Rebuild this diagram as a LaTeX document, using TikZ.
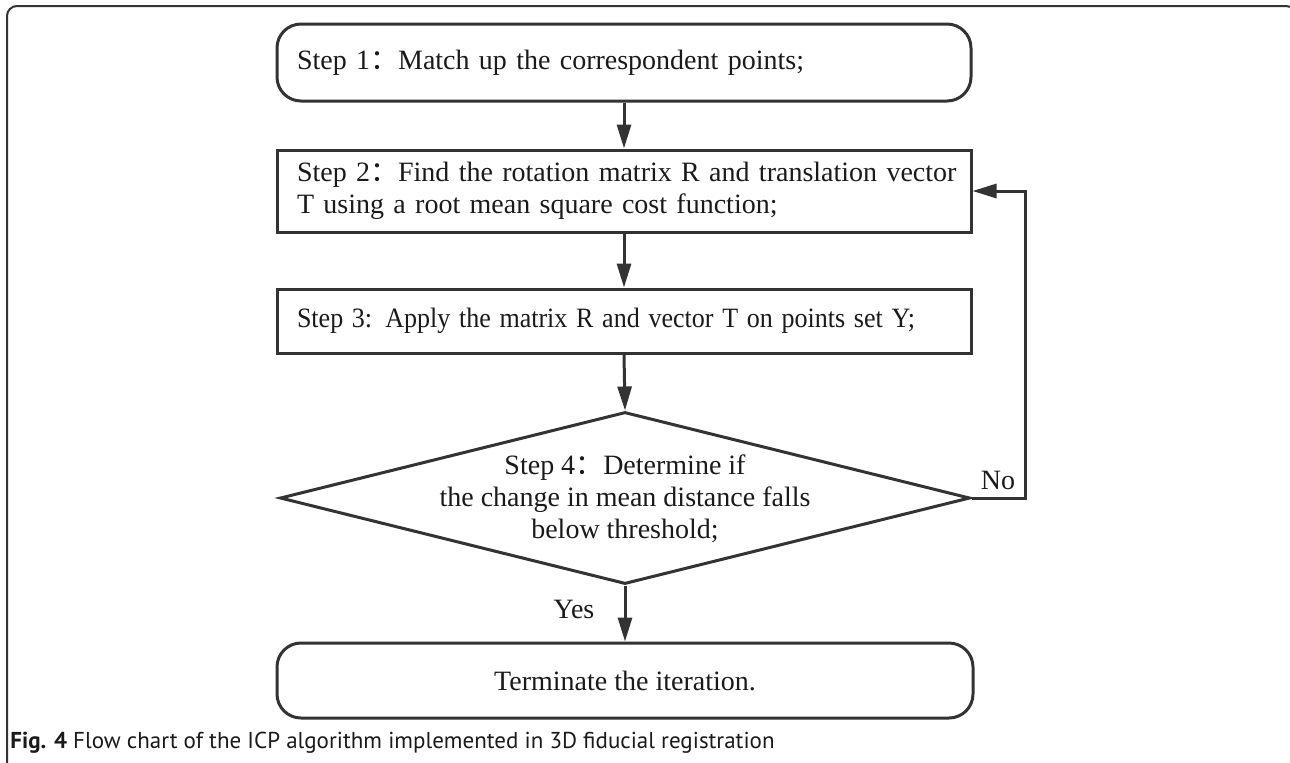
\documentclass[tikz,border=0pt]{standalone}
\usepackage{graphicx}
\usepackage{fontspec}
\setmainfont{Liberation Serif}
\newfontfamily\capfont{PT Sans}
\newfontfamily\cjk{Noto Sans CJK SC}
\newcommand{\fwcolon}{{\cjk ：}}
\usetikzlibrary{shapes.geometric,arrows.meta,calc}
\definecolor{linec}{HTML}{333333}
\definecolor{txtc}{HTML}{1A1A1A}
\begin{document}
\begin{tikzpicture}[x=0.5pt,y=-0.5pt,
  every node/.style={text=txtc, font=\fontsize{14pt}{16pt}\selectfont},
  box/.style={draw=linec, line width=1.5pt, inner sep=0pt},
  term/.style={box, rounded corners=12pt},
  stepbox/.style={inner xsep=10pt, align=left, text width=327pt, minimum width=347pt},
  arr/.style={draw=linec, line width=1.5pt, -{Triangle[width=7pt,length=12pt]}}]
\useasboundingbox (0,0) rectangle (1290,762);
\clip (0,0) rectangle (1290,762);
% outer frame
\draw[linec, line width=1pt, rounded corners=5pt] (7,780) -- (7,6) -- (1296,6) -- (1296,780);
% nodes
\node[term, stepbox, minimum height=38.5pt] (s1) at (624,62.5)
  {\mbox{Step 1\fwcolon Match up the correspondent points;}};
\node[box, stepbox, minimum height=41pt] (s2) at (624,191)
  {\mbox{Step 2\fwcolon Find the rotation matrix R and translation vector}\\\mbox{T using a root mean square cost function;}};
\node[box, stepbox, minimum height=32pt] (s3) at (624,321)
  {\scalebox{0.93}[1]{Step 3: Apply the matrix R and vector T on points set Y;}};
\node[box, shape=diamond, minimum width=345pt, minimum height=86pt] (d4) at (625,498) {};
\node[align=center, inner sep=0pt] (d4t) at (625,499)
  {Step 4\fwcolon Determine if\\the change in mean distance falls\\below threshold;};
\node[term, minimum width=348pt, minimum height=37.5pt] (s5) at (625,680.5)
  {Terminate the iteration.};
% connectors
\draw[arr] (s1.south) -- (s2.north);
\draw[arr] (s2.south) -- (s3.north);
\draw[arr] (s3.south) -- (d4.north);
\draw[arr] (d4.south) -- (s5.north);
\draw[arr] (d4.east) -- ++(54,0) |- (s2.east);
\node (yes) at (574,609) {Yes};
\node (no) at (998,480) {No};
% caption
\node[anchor=base west, inner sep=0pt, font=\capfont\fontsize{11.5pt}{13pt}\selectfont] (cap) at (10,748)
  {\textbf{Fig. 4} Flow chart of the ICP algorithm implemented in 3D fiducial registration};
\end{tikzpicture}
\end{document}
